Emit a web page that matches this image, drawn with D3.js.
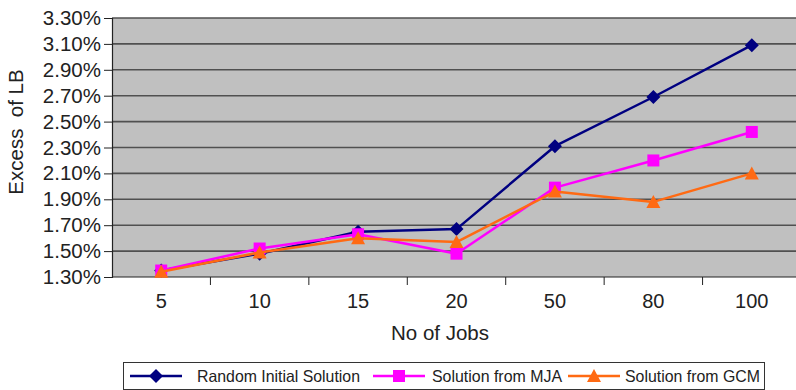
<!DOCTYPE html>
<html>
<head>
<meta charset="utf-8">
<script src="https://cdn.jsdelivr.net/npm/d3@7"></script>
<style>
  html, body { margin: 0; padding: 0; background: #fff; }
  svg { display: block; font-family: "Liberation Sans", Arial, sans-serif; }
</style>
</head>
<body>
<svg id="chart" width="796" height="390"></svg>
<script>
// Job counts on the category axis
const jobs = ["5", "10", "15", "20", "50", "80", "100"];
// Excess over the lower bound, in percent
const randomInitial = [1.35, 1.48, 1.65, 1.67, 2.31, 2.69, 3.09];
const fromMJA = [1.35, 1.52, 1.63, 1.48, 1.99, 2.20, 2.42];
const fromGCM = [1.34, 1.49, 1.60, 1.57, 1.96, 1.88, 2.10];
const yTicks = [1.3, 1.5, 1.7, 1.9, 2.1, 2.3, 2.5, 2.7, 2.9, 3.1, 3.3];
const seriesNames = ["Random Initial Solution", "Solution from MJA", "Solution from GCM"];

const series = [
  { name: seriesNames[0], values: randomInitial, color: "#000080", marker: "diamond" },
  { name: seriesNames[1], values: fromMJA, color: "#ff00ff", marker: "square" },
  { name: seriesNames[2], values: fromGCM, color: "#ff6a13", marker: "triangle" }
];

const svg = d3.select("#chart");
const plot = { left: 112, top: 18, right: 801, bottom: 277 };

const x = d3.scaleBand().domain(jobs).range([plot.left, plot.right]).padding(0);
const y = d3.scaleLinear().domain([1.3, 3.3]).range([plot.bottom, plot.top]);

// plot background
svg.append("rect")
  .attr("x", plot.left).attr("y", plot.top)
  .attr("width", plot.right - plot.left).attr("height", plot.bottom - plot.top)
  .attr("fill", "#c0c0c0");

// horizontal gridlines
svg.append("g").selectAll("line").data(yTicks.slice(1)).join("line")
  .attr("x1", plot.left).attr("x2", plot.right)
  .attr("y1", d => y(d)).attr("y2", d => y(d))
  .attr("stroke", "#505050").attr("stroke-width", 1.6);

// y axis
const yAxis = d3.axisLeft(y).tickValues(yTicks)
  .tickFormat(d => d3.format(".2f")(d) + "%").tickSizeOuter(0).tickSize(8).tickPadding(3);
const gy = svg.append("g").attr("transform", `translate(${plot.left},0)`).call(yAxis);
gy.select(".domain").attr("stroke", "#222").attr("stroke-width", 1.2);
gy.selectAll(".tick line").attr("stroke", "#222");
gy.selectAll(".tick text").attr("font-size", 20.5).attr("fill", "#222")
  .attr("font-family", "'Liberation Sans', Arial, sans-serif");

// x axis: ticks sit on category boundaries
const gx = svg.append("g").attr("transform", `translate(0,${plot.bottom})`);
gx.append("line").attr("x1", plot.left).attr("x2", plot.right)
  .attr("stroke", "#222").attr("stroke-width", 1.2);
gx.selectAll("line.bt").data(jobs.slice(1)).join("line").attr("class", "bt")
  .attr("x1", d => x(d)).attr("x2", d => x(d)).attr("y1", 0).attr("y2", 8)
  .attr("stroke", "#222");
gx.selectAll("text").data(jobs).join("text")
  .attr("x", d => x(d) + x.bandwidth() / 2).attr("y", 31)
  .attr("text-anchor", "middle").attr("font-size", 20).attr("fill", "#222")
  .text(d => d);

// axis titles
svg.append("text").attr("x", 440).attr("y", 340).attr("text-anchor", "middle")
  .attr("font-size", 20.5).attr("fill", "#222").text("No of Jobs");
svg.append("text").attr("transform", "translate(23,132) rotate(-90)")
  .attr("text-anchor", "middle").attr("font-size", 20.5).attr("fill", "#222")
  .attr("xml:space", "preserve").style("white-space", "pre").text("Excess  of LB");

// marker shapes
function markerPath(kind) {
  if (kind === "diamond") return "M0,-7L7,0L0,7L-7,0Z";
  if (kind === "square") return "M-6,-6H6V6H-6Z";
  return "M0,-7L7,6H-7Z";
}

const line = d3.line().x((d, i) => x(jobs[i]) + x.bandwidth() / 2).y(d => y(d));

series.forEach(s => {
  const g = svg.append("g");
  g.append("path").attr("d", line(s.values)).attr("fill", "none")
    .attr("stroke", s.color).attr("stroke-width", 2.5).attr("stroke-linejoin", "round");
  g.selectAll("path.m").data(s.values).join("path").attr("class", "m")
    .attr("transform", (d, i) => `translate(${x(jobs[i]) + x.bandwidth() / 2},${y(d)})`)
    .attr("d", markerPath(s.marker)).attr("fill", s.color);
});

// legend
const legend = svg.append("g");
legend.append("rect").attr("x", 123.5).attr("y", 362.5).attr("width", 641).attr("height", 27)
  .attr("fill", "#fff").attr("stroke", "#333").attr("stroke-width", 1);
const legendX = [130, 373, 568];
const legendTextX = [197, 432, 625];
const legendTextWidth = [163, 130, 135];
series.forEach((s, i) => {
  const lx = legendX[i];
  legend.append("line").attr("x1", lx).attr("x2", lx + 52).attr("y1", 376).attr("y2", 376)
    .attr("stroke", s.color).attr("stroke-width", 2.5);
  legend.append("path").attr("transform", `translate(${lx + 26},376)`)
    .attr("d", markerPath(s.marker)).attr("fill", s.color);
  legend.append("text").attr("x", legendTextX[i]).attr("y", 382).attr("font-size", 16.5)
    .attr("textLength", legendTextWidth[i]).attr("lengthAdjust", "spacingAndGlyphs")
    .attr("fill", "#222").text(s.name);
});
</script>
</body>
</html>
